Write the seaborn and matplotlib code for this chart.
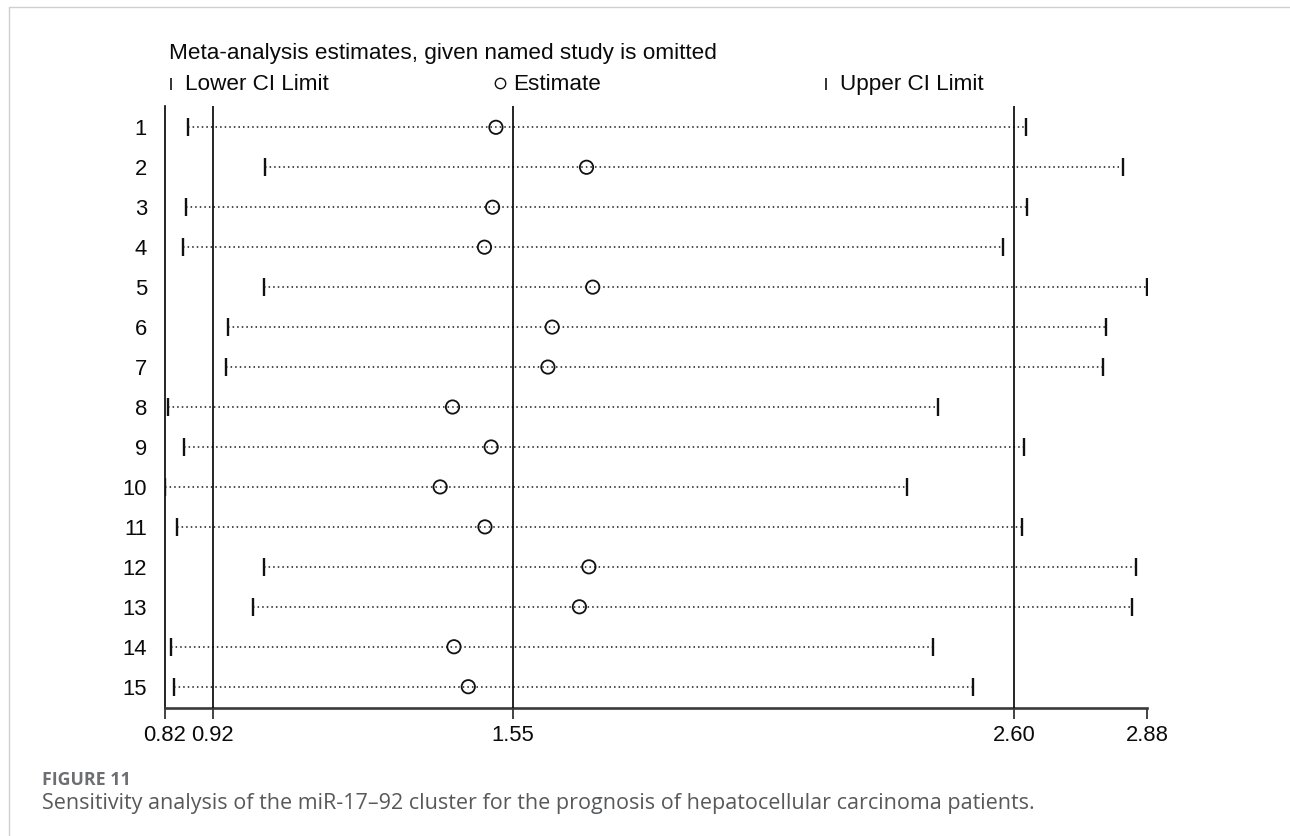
import matplotlib
matplotlib.use("Agg")
import matplotlib.pyplot as plt
from matplotlib.lines import Line2D
import seaborn as sns
import pandas as pd
import numpy as np

# ---- data ----
studies = [str(i) for i in range(1, 16)]
estimate = [1.514, 1.704, 1.507, 1.490, 1.717, 1.632, 1.623, 1.423, 1.504, 1.397,
            1.491, 1.709, 1.689, 1.426, 1.456]
lower_ci = [0.868, 1.030, 0.863, 0.857, 1.027, 0.952, 0.947, 0.827, 0.860, 0.820,
            0.845, 1.027, 1.004, 0.833, 0.839]
upper_ci = [2.625, 2.830, 2.627, 2.577, 2.880, 2.794, 2.788, 2.442, 2.621, 2.376,
            2.618, 2.856, 2.848, 2.431, 2.515]
overall = [0.92, 1.55, 2.60]          # pooled lower CI, estimate, upper CI
axis_ticks = [0.82, 0.92, 1.55, 2.60, 2.88]
tick_labels = ["0.82", "0.92", "1.55", "2.60", "2.88"]

df = pd.DataFrame({"study": studies, "row": np.arange(1, 16),
                   "est": estimate, "lo": lower_ci, "hi": upper_ci})

sns.set_theme(style="white")
plt.rcParams["font.family"] = ["Liberation Sans", "DejaVu Sans"]

W, H = 1290, 836
fig = plt.figure(figsize=(W / 100, H / 100), dpi=100)
fig.patch.set_facecolor("white")
ax = fig.add_axes([165 / W, 1 - 708.3 / H, (1147.3 - 165) / W, (708.3 - 106) / H])
ax.set_facecolor("white")

# dotted CI lines
ax.hlines(df["row"], df["lo"], df["hi"], colors="#1a1a1a", linewidth=1.1,
          linestyles=(0, (1, 2)), zorder=2)
# reference lines for pooled estimate and its CI
for v in overall:
    ax.axvline(v, color="black", linewidth=1.2, zorder=3)
# CI limits
sns.scatterplot(data=df, x="lo", y="row", marker="|", s=180, color="#111111",
                linewidth=1.7, ax=ax, zorder=4, legend=False)
sns.scatterplot(data=df, x="hi", y="row", marker="|", s=180, color="#111111",
                linewidth=1.7, ax=ax, zorder=4, legend=False)
# estimates (hollow circles)
ax.scatter(df["est"], df["row"], s=92, facecolors="none", edgecolors="#111111",
           linewidths=1.3, zorder=5)

ax.set_xlim(0.82, 2.88)
ax.set_ylim(15.54, 0.467)
ax.set_xticks(axis_ticks)
ax.set_xticklabels(tick_labels)
ax.set_yticks(df["row"])
ax.set_yticklabels(df["study"])
ax.set_xlabel("")
ax.set_ylabel("")
ax.tick_params(axis="x", direction="out", length=8, width=1.2, color="#222222",
               labelsize=15.8, pad=4.0, bottom=True)
ax.tick_params(axis="y", length=0, labelsize=15.8, pad=13)
for lab in ax.get_xticklabels() + ax.get_yticklabels():
    lab.set_color("#0a0a0a")

for s in ["top", "right"]:
    ax.spines[s].set_visible(False)
ax.spines["left"].set_color("black")
ax.spines["left"].set_linewidth(1.2)
ax.spines["bottom"].set_color("#3a3a3a")
ax.spines["bottom"].set_linewidth(1.9)
ax.grid(False)

# header text (Stata-style title and key)
fig.text(169 / W, 1 - 59 / H, "Meta-analysis estimates, given named study is omitted",
         fontsize=16.2, color="#0a0a0a", va="baseline", ha="left")
fig.text(185 / W, 1 - 90 / H, "Lower CI Limit", fontsize=16.2, color="#0a0a0a",
         va="baseline", ha="left")
fig.text(513 / W, 1 - 90 / H, "Estimate", fontsize=16.2, color="#0a0a0a",
         va="baseline", ha="left")
fig.text(840 / W, 1 - 90 / H, "Upper CI Limit", fontsize=16.2, color="#0a0a0a",
         va="baseline", ha="left")
fig.add_artist(Line2D([171 / W], [1 - 84 / H], marker="|", markersize=8.5,
                      markeredgewidth=1.2, color="#111111", linestyle="none",
                      transform=fig.transFigure))
fig.add_artist(Line2D([826 / W], [1 - 84 / H], marker="|", markersize=8.5,
                      markeredgewidth=1.2, color="#111111", linestyle="none",
                      transform=fig.transFigure))
fig.add_artist(Line2D([500 / W], [1 - 83 / H], marker="o", markersize=7.5,
                      markerfacecolor="none", markeredgewidth=1.0,
                      markeredgecolor="#111111", linestyle="none",
                      transform=fig.transFigure))

# page frame
fig.add_artist(Line2D([9 / W, 9 / W], [0, 1 - 7 / H], color="#cfcfcf", linewidth=1.0,
                      transform=fig.transFigure))
fig.add_artist(Line2D([9 / W, 1], [1 - 7 / H, 1 - 7 / H], color="#cfcfcf", linewidth=1.0,
                      transform=fig.transFigure))

# caption
fig.text(42 / W, 1 - 780 / H, "FIGURE 11", fontsize=12.8, fontweight="bold",
         family=["Open Sans", "DejaVu Sans"], color="#6d6e71", va="center", ha="left")
fig.text(42 / W, 1 - 804 / H,
         "Sensitivity analysis of the miR-17\u201392 cluster for the prognosis of hepatocellular carcinoma patients.",
         fontsize=15.5, family=["Open Sans", "DejaVu Sans"], color="#58595b",
         va="center", ha="left")

fig.savefig("out.png", dpi=100, facecolor="white")
